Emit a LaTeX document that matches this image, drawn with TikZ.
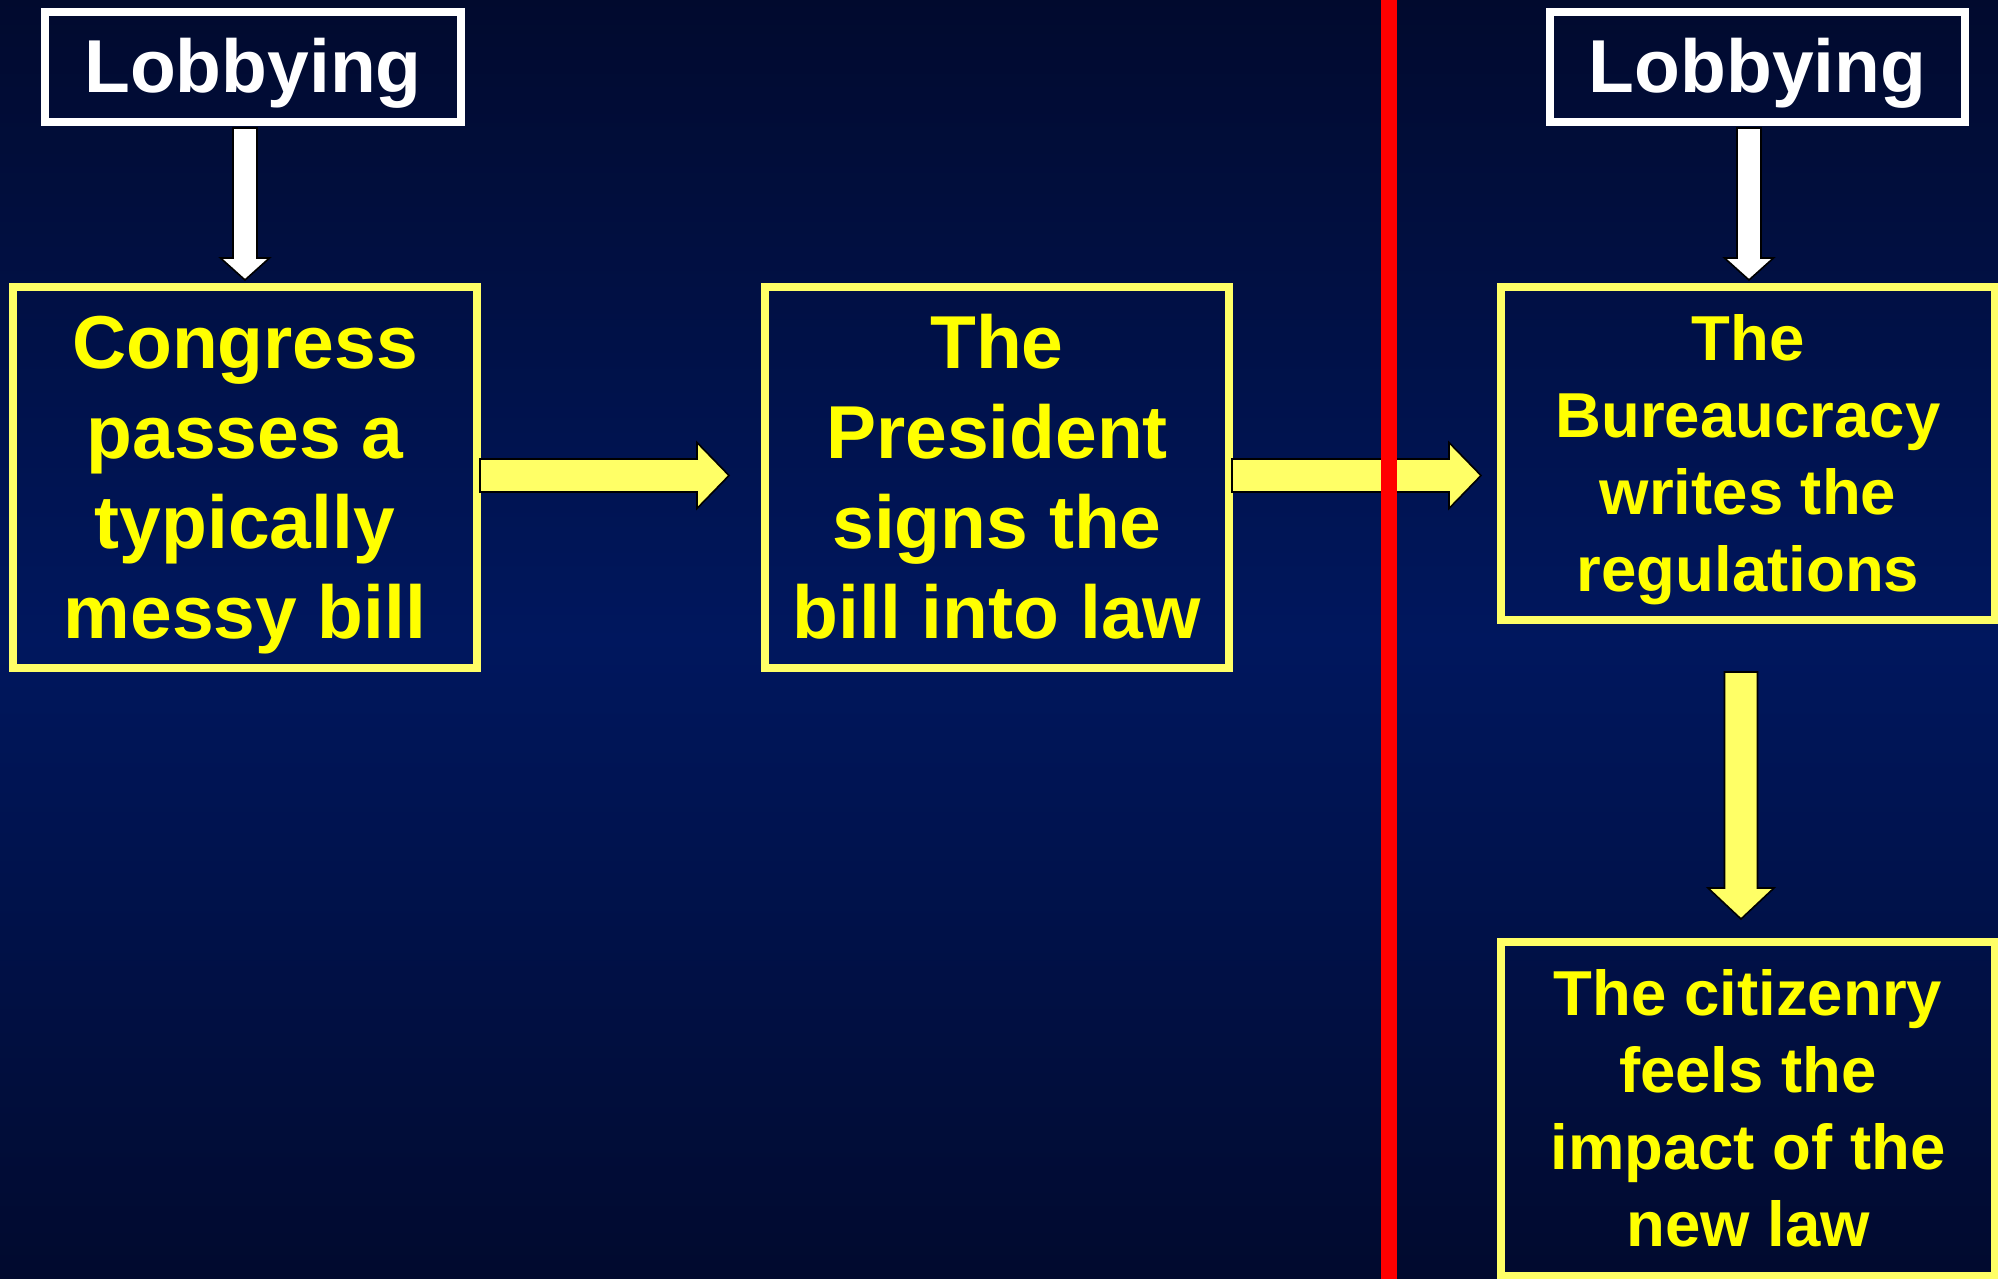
\documentclass[tikz,border=0pt]{standalone}
\usepackage{fontspec}
\setmainfont{Liberation Sans}
\usetikzlibrary{calc}
\definecolor{bgdark}{RGB}{1,10,46}
\definecolor{bgmid}{RGB}{0,23,94}
\definecolor{boxyellow}{RGB}{255,255,102}
\definecolor{txtyellow}{RGB}{255,255,0}
\definecolor{arrowyellow}{RGB}{255,255,102}
\newcommand\ls{\rule[-0.212em]{0pt}{1.117em}}
% block arrows: #1 style, #2 start, #3 tip, #4 shaft half width, #5 head half width, #6 head length
\newcommand\VArrow[6]{%
  \path[#1] let \p1=(#2), \p2=(#3) in
    ({\x2-#4},\y1) -- ({\x2-#4},{\y2+#6}) -- ({\x2-#5},{\y2+#6}) -- (\x2,\y2)
    -- ({\x2+#5},{\y2+#6}) -- ({\x2+#4},{\y2+#6}) -- ({\x2+#4},\y1) -- cycle;}
\newcommand\HArrow[6]{%
  \path[#1] let \p1=(#2), \p2=(#3) in
    (\x1,{\y2+#4}) -- ({\x2-#6},{\y2+#4}) -- ({\x2-#6},{\y2+#5}) -- (\x2,\y2)
    -- ({\x2-#6},{\y2-#5}) -- ({\x2-#6},{\y2-#4}) -- (\x1,{\y2-#4}) -- cycle;}
\begin{document}
\begin{tikzpicture}[x=0.5pt,y=-0.5pt,
  stepbox/.style={rectangle, draw=boxyellow, line width=4pt, inner sep=0pt, align=center, text=txtyellow},
  bigtext/.style={font=\fontsize{37.5pt}{45pt}\selectfont\bfseries},
  smalltext/.style={font=\fontsize{31.75pt}{38.5pt}\selectfont\bfseries},
  lobbybox/.style={rectangle, draw=white, line width=4pt, inner sep=0pt, text=white,
    font=\fontsize{37.5pt}{45pt}\selectfont\bfseries, minimum width=208pt, minimum height=55pt},
  yarrow/.style={fill=arrowyellow, draw=black, line width=0.8pt, line join=miter},
  warrow/.style={fill=white, draw=black, line width=0.8pt, line join=miter},
  divider/.style={draw=red, line width=8pt}]
\useasboundingbox (0,0) rectangle (1998,1279);
\shade[top color=bgdark, bottom color=bgdark, middle color=bgmid] (0,0) rectangle (1998,1279);

\node[lobbybox] (lobL) at (253,67) {\ls Lobbying};
\node[lobbybox, minimum width=207.5pt] (lobR) at (1757.5,67) {\ls Lobbying};

\node[stepbox, bigtext, minimum width=232pt, minimum height=190.5pt] (cong) at (245,477.5)
  {\ls Congress\\\ls passes a\\\ls typically\\\ls messy bill};
\node[stepbox, bigtext, minimum width=232pt, minimum height=190.5pt] (pres) at (997,477.5)
  {\ls The\\\ls President\\\ls signs the\\\ls bill into law};
\node[stepbox, smalltext, minimum width=247pt, minimum height=166.5pt] (bur) at (1748,453.5)
  {\ls The\\\ls Bureaucracy\\\ls writes the\\\ls regulations};
\node[stepbox, smalltext, minimum width=247pt, minimum height=167pt] (cit) at (1748,1109)
  {\ls The citizenry\\\ls feels the\\\ls impact of the\\\ls new law};

\coordinate (w1s) at ($(lobL.south)+(-8,2)$);
\coordinate (w1t) at ($(cong.north)+(0,-3)$);
\coordinate (w2s) at ($(lobR.south)+(-8.5,2)$);
\coordinate (w2t) at ($(bur.north)+(1,-3)$);
\coordinate (h1s) at ($(cong.east)+(-1,-2)$);
\coordinate (h1t) at ($(pres.west)+(-32,-2)$);
\coordinate (h2s) at ($(pres.east)+(-1,-2)$);
\coordinate (h2t) at ($(bur.west)+(-16,22)$);
\coordinate (v1s) at ($(bur.south)+(-7,48)$);
\coordinate (v1t) at ($(cit.north)+(-7,-19)$);

\VArrow{warrow}{w1s}{w1t}{6pt}{12.25pt}{11pt}
\VArrow{warrow}{w2s}{w2t}{6pt}{12.25pt}{11pt}
\HArrow{yarrow}{h1s}{h1t}{8.25pt}{16.5pt}{16pt}
\HArrow{yarrow}{h2s}{h2t}{8.25pt}{16.5pt}{16pt}
\VArrow{yarrow}{v1s}{v1t}{8.25pt}{16.5pt}{15.5pt}

\coordinate (divtop) at (1389,0);
\coordinate (divbot) at (1389,1279);
\draw[divider] (divtop) -- (divbot);
\end{tikzpicture}
\end{document}
